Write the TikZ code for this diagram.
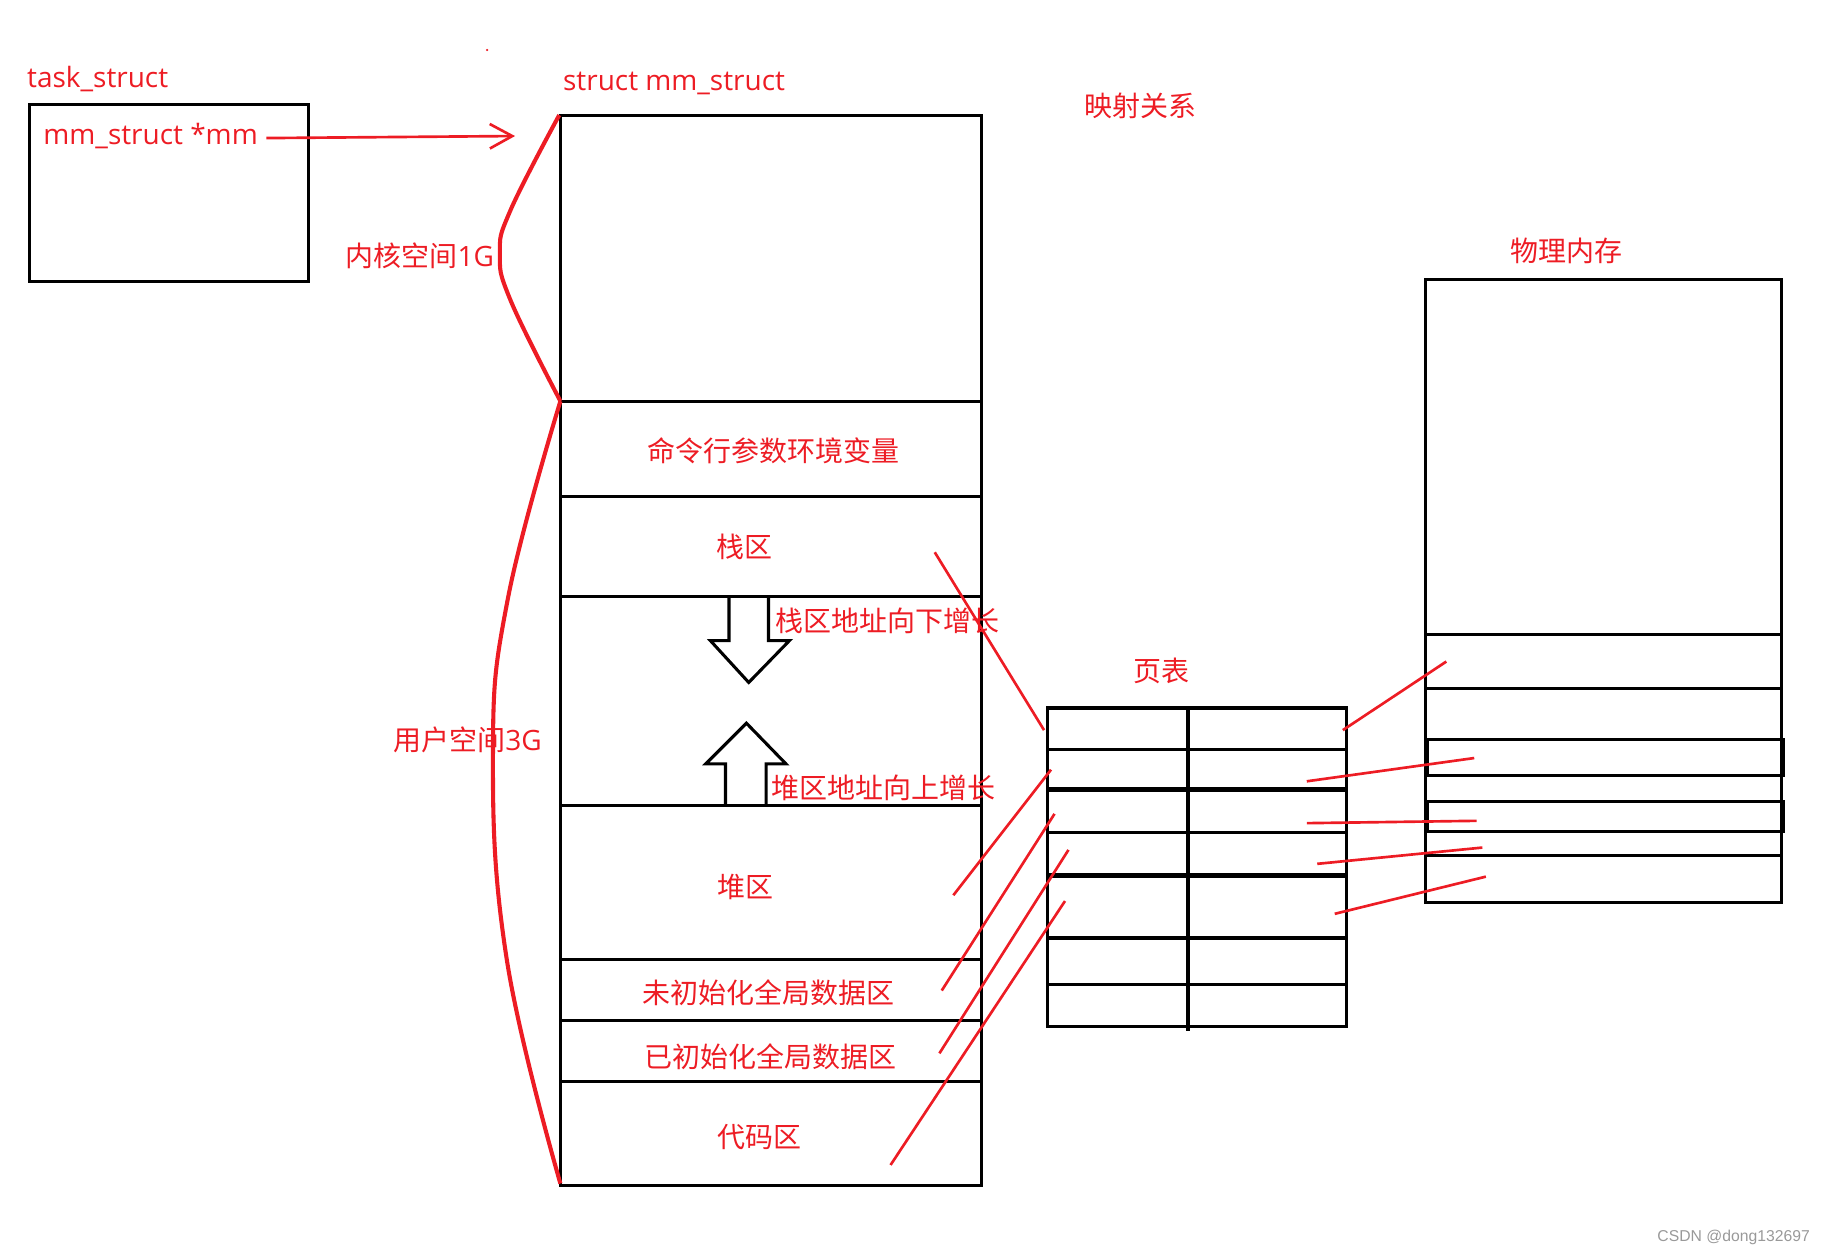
\documentclass[tikz,border=0pt]{standalone}
\usepackage{fontspec}
\setmainfont{Open Sans}
\newfontfamily\cjk{Noto Sans CJK SC}
\newfontfamily\wmfont{Liberation Sans}
\usetikzlibrary{arrows.meta}
\usepackage{color}
\definecolor{paintred}{RGB}{237,28,36}
\tikzset{
  lbl/.style={text=paintred,inner sep=0pt,font=\fontsize{13.7}{16}\selectfont},
  zh/.style={lbl,font=\cjk\fontsize{13.7}{16}\selectfont},
  box/.style={line width=1.5pt},
  heavy/.style={line width=2.1pt},
  scribble/.style={paintred,line width=1.3pt},
  span/.style={paintred,line width=2pt,line join=round},
}

\begin{document}
\begin{tikzpicture}[x=0.02cm,y=-0.02cm]
  \useasboundingbox(0,0)rectangle(1568,1079);
  \fill[paintred](419,43)circle(0.6pt);
  % task_struct
  \node[lbl,anchor=west](tasklbl) at (23,68){task\_struct};
  \draw[box](25,90)rectangle(265,242);
  \node[lbl,anchor=west](mmptr) at (37,117){mm\_struct *mm};
  \coordinate(mmhead) at (443,117);
  \draw[scribble,-{Straight Barb[length=11pt,width=12pt]}]([xshift=4pt,yshift=-1pt]mmptr.east)--(mmhead);
  % mm_struct
  \node[lbl,anchor=west](mmlbl) at (484,72){struct mm\_struct};
  \draw[box](482,99)rectangle(844,1020);
  \foreach \y in {345,427,513,693,825,878,930}
    \draw[box](482,\y)--(844,\y);
  \node[zh](argenv) at (665,388){命令行参数环境变量};
  \node[zh](stack) at (640,470){栈区};
  \node[zh,anchor=west](stackdir) at (667,534){栈区地址向下增长};
  \node[zh,anchor=west](heapdir) at (663,678){堆区地址向上增长};
  \node[zh](heap) at (641,763){堆区};
  \node[zh](bss) at (661,854){未初始化全局数据区};
  \node[zh](data) at (663,909){已初始化全局数据区};
  \node[zh](text) at (653,978){代码区};
  \draw[box](627,513)--(627,551)--(611,551)--(644,587)--(679,551)--(661,551)--(661,513);
  \draw[box](624,693)--(624,657)--(607,657)--(642,622)--(676,657)--(659,657)--(659,693);
  % kernel / user
  \draw[span]plot[smooth,tension=0.7]coordinates{(481,99)(439,181)(430,218)(439,258)(482,345)};
  \draw[span]plot[smooth,tension=0.7]coordinates{(482,345)(437,514)(424,647)(436,826)(482,1018)};
  \node[lbl,anchor=west](kernel) at (297,220){{\cjk 内核空间}1G};
  \node[lbl,anchor=west](user) at (338,636){{\cjk 用户空间}3G};
  \node[zh](maplbl) at (981,91){映射关系};
  % page table
  \node[zh](ptlbl) at (999,577){页表};
  \draw[box,line width=1.8pt](901,609)rectangle(1158,883);
  \draw[box,line width=1.7pt](1022,609)--(1022,887);
  \foreach \y in {645,716,847}
    \draw[box](901,\y)--(1158,\y);
  \foreach \y in {609,679,753,807}
    \draw[heavy](901,\y)--(1158,\y);
  % physical memory
  \node[zh](pmlbl) at (1347,216){物理内存};
  \draw[box](1226,240)rectangle(1532,776);
  \foreach \y in {546,592,736}
    \draw[box](1226,\y)--(1532,\y);
  \draw[box](1228,636)rectangle(1534,667);
  \draw[box](1228,689)rectangle(1534,715);
  % mapping
  \foreach \xa/\ya/\xb/\yb in {804/475/898/628,820/770/904/662,810/852/907/700,808/906/919/731,766/1002/916/775}
    \draw[scribble](\xa,\ya)--(\xb,\yb);
  \foreach \xa/\ya/\xb/\yb in {1155/628/1244/569,1124/672/1268/652,1124/708/1270/706,1133/743/1275/729,1148/786/1278/754}
    \draw[scribble](\xa,\ya)--(\xb,\yb);
  \node[text=black!40,font=\wmfont\fontsize{7.7}{9}\selectfont,anchor=east,inner sep=0pt](wm) at (1557,1064){CSDN @dong132697};
\end{tikzpicture}
\end{document}
